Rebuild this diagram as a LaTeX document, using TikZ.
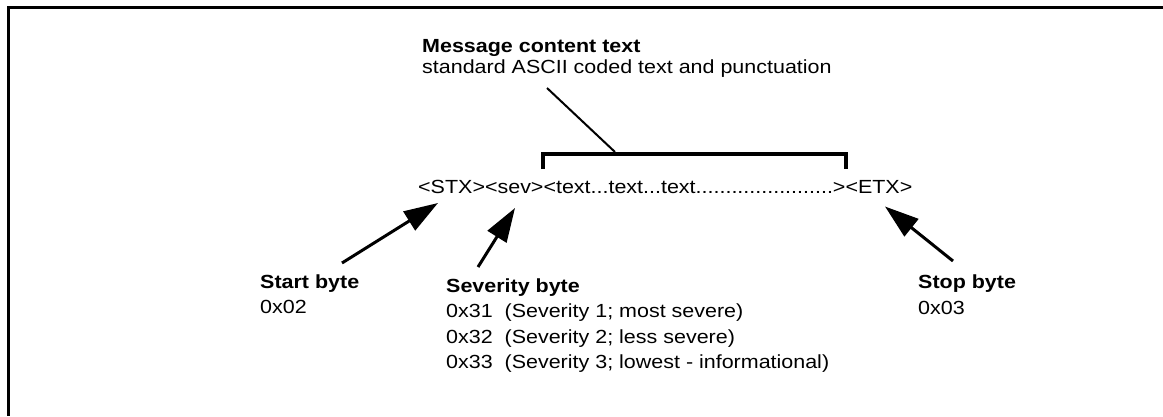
\documentclass[tikz,border=0pt]{standalone}
\usepackage{fontspec}
\setmainfont{Liberation Sans}[FakeStretch=1.13]
\usetikzlibrary{arrows.meta}
\begin{document}
\begin{tikzpicture}[x=1pt,y=-1pt,
  txt/.style={anchor=base west, inner sep=0pt, font=\fontsize{19}{23}\selectfont},
  hdr/.style={txt, font=\fontsize{19}{23}\selectfont\bfseries},
  pointer/.style={line width=3pt, -{Triangle[length=34pt,width=22pt]}},
  bracketline/.style={line width=4pt, line join=miter},
  leader/.style={line width=2pt}]
\useasboundingbox (0,0) rectangle (1163,416);
% open frame: top and left edges only
\draw[line width=3pt, line join=miter] (1163,7.5) -- (8.5,7.5) -- (8.5,416);

% message content description
\node[hdr] (msghead) at (422,52.5) {Message content text};
\node[txt] (msgdesc) at (422,73.5) {standard ASCII coded text and punctuation};

% the message string
\node[txt] (msg) at (418,193) {<STX><sev><text...text...text.......................><ETX>};

% bracket over the text part and its leader line
\coordinate (brl) at (543,169);
\coordinate (brtl) at (543,153.5);
\coordinate (brtr) at (846,153.5);
\coordinate (brr) at (846,169);
\draw[bracketline] (brl) -- (brtl) -- (brtr) -- (brr);
\coordinate (leadtop) at (547,88);
\coordinate (leadbot) at (615,152);
\draw[leader] (leadtop) -- (leadbot);

% start byte
\node[hdr] (starthead) at (260,288) {Start byte};
\node[txt] (startval) at (260,313.5) {0x02};
\coordinate (stxtail) at (342,263);
\coordinate (stxtip) at (438,203);
\draw[pointer] (stxtail) -- (stxtip);

% severity byte
\node[hdr] (sevhead) at (446,292) {Severity byte};
\node[txt] (sev1) at (446,317.5) {0x31\ \ (Severity 1; most severe)};
\node[txt] (sev2) at (446,343) {0x32\ \ (Severity 2; less severe)};
\node[txt] (sev3) at (446,368.5) {0x33\ \ (Severity 3; lowest - informational)};
\coordinate (sevtail) at (478,267);
\coordinate (sevtip) at (515,208);
\draw[pointer] (sevtail) -- (sevtip);

% stop byte
\node[hdr] (stophead) at (918,288.5) {Stop byte};
\node[txt] (stopval) at (918,314) {0x03};
\coordinate (etxtail) at (953,261);
\coordinate (etxtip) at (885,206.5);
\draw[pointer] (etxtail) -- (etxtip);
\end{tikzpicture}
\end{document}
